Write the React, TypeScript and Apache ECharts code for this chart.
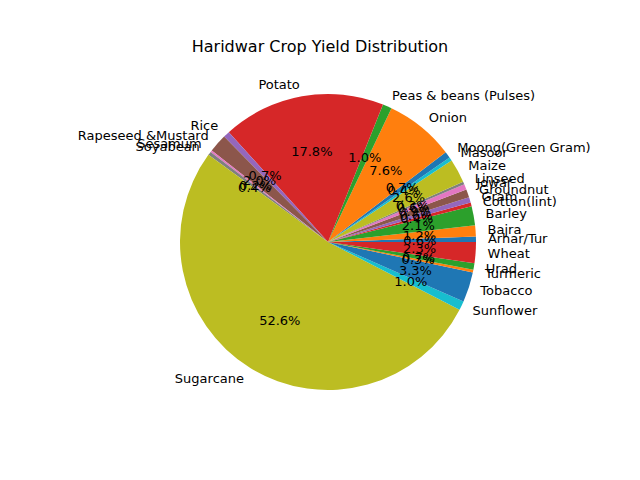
import { useEffect, useRef } from "react";
import * as echarts from "echarts";

const crops = [
  "Arhar/Tur", "Bajra", "Barley", "Cotton(lint)", "Gram", "Groundnut", "Jowar", "Linseed",
  "Maize", "Masoor", "Moong(Green Gram)", "Onion", "Peas & beans (Pulses)", "Potato", "Rice",
  "Rapeseed &Mustard", "Sesamum", "Soyabean", "Sugarcane", "Sunflower", "Tobacco", "Turmeric",
  "Urad", "Wheat",
];
const shares = [
  0.6, 1.2, 2.1, 0.4, 0.6, 0.9, 0.6, 0.3,
  2.6, 0.4, 0.7, 7.6, 1.0, 17.8, 0.7,
  2.0, 0.2, 0.4, 52.6, 1.0, 3.3, 0.3,
  0.7, 2.3,
];
const TAB10 = ["#1f77b4", "#ff7f0e", "#2ca02c", "#d62728", "#9467bd", "#8c564b", "#e377c2", "#7f7f7f", "#bcbd22", "#17becf"];

const R = 148;
const FONT = "DejaVu Sans";

export default function App() {
  const ref = useRef<HTMLDivElement>(null);

  useEffect(() => {
    document.body.style.margin = "0";
    const el = ref.current;
    if (!el) return;
    const chart = echarts.init(el, null, { renderer: "svg" });
    const data = crops.map((name, i) => ({ name, value: shares[i], itemStyle: { color: TAB10[i % 10] } }));
    chart.setOption({
      animation: false,
      backgroundColor: "#fff",
      title: {
        text: "Haridwar Crop Yield Distribution",
        left: "center", top: 33,
        textStyle: { fontFamily: FONT, fontSize: 16, fontWeight: "normal", color: "#000" },
      },
      series: [
        {
          type: "pie",
          center: [328, 242],
          radius: [0, R],
          startAngle: 0,
          clockwise: false,
          avoidLabelOverlap: false,
          labelLayout: { hideOverlap: false },
          silent: true,
          data,
          itemStyle: { borderWidth: 0 },
          label: {
            show: true, position: "outside", formatter: "{b}",
            fontFamily: FONT, fontSize: 13, color: "#000", distanceToLabelLine: 0,
          },
          labelLine: { show: false, length: 12, length2: 0 },
          emphasis: { disabled: true },
        },
        {
          type: "pie",
          center: [328, 242],
          radius: [R * 0.2, R],
          startAngle: 0,
          clockwise: false,
          avoidLabelOverlap: false,
          labelLayout: { hideOverlap: false },
          silent: true,
          data: data.map((d) => ({ ...d, itemStyle: { color: "rgba(0,0,0,0)" } })),
          label: {
            show: true, position: "inside",
            formatter: (p: { value: number }) => `${p.value.toFixed(1)}%`,
            fontFamily: FONT, fontSize: 13, color: "#000",
          },
          labelLine: { show: false },
          emphasis: { disabled: true },
        },
      ],
    });
    return () => chart.dispose();
  }, []);

  return <div ref={ref} style={{ width: 640, height: 480 }} />;
}
